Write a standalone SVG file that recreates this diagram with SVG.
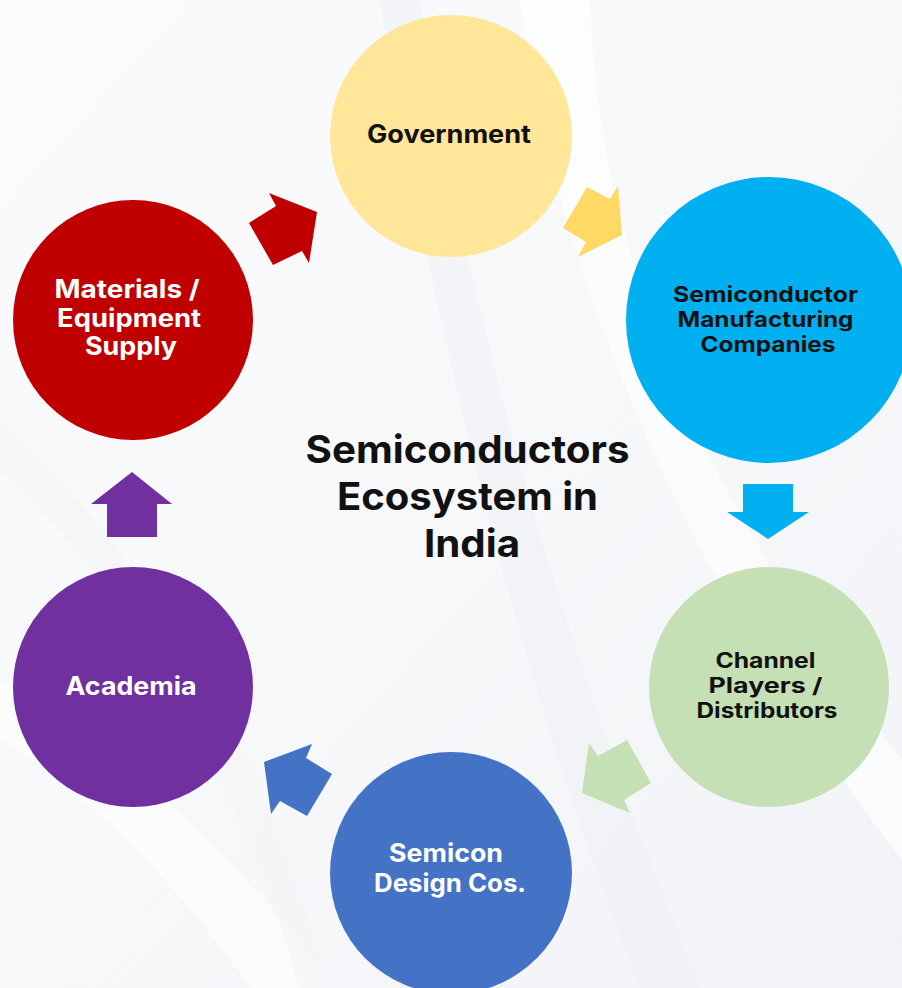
<svg xmlns="http://www.w3.org/2000/svg" width="902" height="988" viewBox="0 0 902 988">
<defs>
<linearGradient id="bg" x1="0" y1="0" x2="1" y2="1">
<stop offset="0" stop-color="#fbfbfd"/>
<stop offset="0.5" stop-color="#f7f8fa"/>
<stop offset="1" stop-color="#f1f3f6"/>
</linearGradient>
<style>
.t{font-family:Inter,"Open Sans","Liberation Sans",sans-serif;font-weight:700;text-anchor:middle}
.dk{fill:#111111}
.wh{fill:#ffffff}
</style>
</defs>
<rect width="902" height="988" fill="url(#bg)"/>
<g id="background">
<path d="M520 0 C560 300 700 600 902 860 L902 760 C720 520 600 280 590 0 Z" fill="#ffffff" opacity="0.6"/>
<path d="M420 0 C470 330 560 640 700 988 L640 988 C520 680 440 360 380 0 Z" fill="#eef0f4" opacity="0.5"/>
<path d="M0 680 C140 760 260 880 330 988 L250 988 C190 900 100 800 0 740 Z" fill="#ffffff" opacity="0.5"/>
<path d="M0 420 C150 560 260 740 330 988 L300 988 C230 760 130 590 0 470 Z" fill="#f1f3f6" opacity="0.5"/>
</g>
<g id="connectors">
<polygon points="249,223 276,206 269,193 317,212 309,263 302,251 273,265" fill="#c00000"/>
<polygon points="587,187 610,199 618,186 622,235 578,257 586,242 563,228" fill="#ffd966"/>
<polygon points="743,484 793,484 793,512 809,512 768,539 727,512 743,512" fill="#00b0f0"/>
<polygon points="598,756 627,740 651,783 624,800 630,813 582,793 589,743" fill="#c5e0b4"/>
<polygon points="264,762 312,744 306,758 332,774 307,816 280,801 271,814" fill="#4472c4"/>
<polygon points="132,472 172,504 157,504 157,537 107,537 107,504 91,504" fill="#7030a0"/>
</g>
<g id="government">
<circle cx="451" cy="136" r="121" fill="#ffe699"/>
<text class="t dk" x="449" y="143" font-size="25" textLength="164" lengthAdjust="spacingAndGlyphs">Government</text>
</g>
<g id="manufacturing">
<circle cx="769" cy="320" r="143" fill="#00b0f0"/>
<text class="t dk" font-size="21">
<tspan x="768" y="302" textLength="185" lengthAdjust="spacingAndGlyphs">Semiconductor</tspan>
<tspan x="768" y="327" textLength="176" lengthAdjust="spacingAndGlyphs">Manufacturing</tspan>
<tspan x="768" y="352" textLength="135" lengthAdjust="spacingAndGlyphs">Companies</tspan>
</text>
</g>
<g id="channel">
<circle cx="769" cy="687" r="120" fill="#c5e0b4"/>
<text class="t dk" font-size="21">
<tspan x="768" y="668" textLength="100" lengthAdjust="spacingAndGlyphs">Channel</tspan>
<tspan x="768" y="693" textLength="114" lengthAdjust="spacingAndGlyphs">Players /</tspan>
<tspan x="767" y="718" textLength="141" lengthAdjust="spacingAndGlyphs">Distributors</tspan>
</text>
</g>
<g id="design">
<circle cx="451" cy="873" r="121" fill="#4472c4"/>
<text class="t wh" font-size="25">
<tspan x="449" y="862" textLength="114" lengthAdjust="spacingAndGlyphs">Semicon</tspan>
<tspan x="450" y="892" textLength="152" lengthAdjust="spacingAndGlyphs">Design Cos.</tspan>
</text>
</g>
<g id="academia">
<circle cx="133" cy="687" r="120" fill="#7030a0"/>
<text class="t wh" x="131" y="695" font-size="25" textLength="131" lengthAdjust="spacingAndGlyphs">Academia</text>
</g>
<g id="materials">
<circle cx="133" cy="320" r="120" fill="#c00000"/>
<text class="t wh" font-size="25">
<tspan x="130" y="298" textLength="145" lengthAdjust="spacingAndGlyphs">Materials /</tspan>
<tspan x="132" y="327" textLength="144" lengthAdjust="spacingAndGlyphs">Equipment</tspan>
<tspan x="131" y="355" textLength="92" lengthAdjust="spacingAndGlyphs">Supply</tspan>
</text>
</g>
<g id="title">
<text class="t dk" font-size="38">
<tspan x="472" y="463" textLength="324" lengthAdjust="spacingAndGlyphs">Semiconductors</tspan>
<tspan x="472" y="510" textLength="261" lengthAdjust="spacingAndGlyphs">Ecosystem in</tspan>
<tspan x="472" y="557" textLength="96" lengthAdjust="spacingAndGlyphs">India</tspan>
</text>
</g>
</svg>
